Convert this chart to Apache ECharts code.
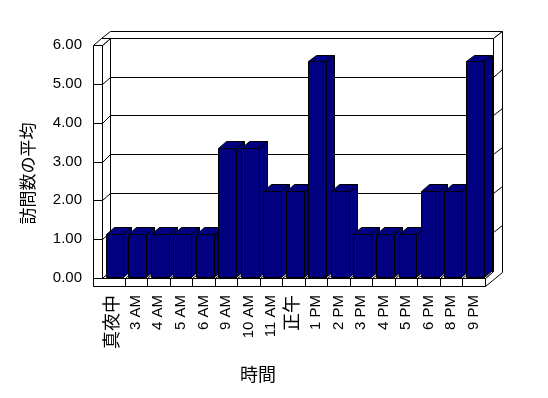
<!DOCTYPE html>
<html>
<head>
<meta charset="utf-8">
<script src="https://cdn.jsdelivr.net/npm/echarts@6/dist/echarts.min.js"></script>
<style>html,body{margin:0;padding:0;background:#fff;}#c{width:548px;height:398px;}</style>
</head>
<body>
<div id="c"></div>
<script>
const categories = ['真夜中','3 AM','4 AM','5 AM','6 AM','9 AM','10 AM','11 AM','正午','1 PM','2 PM','3 PM','4 PM','5 PM','6 PM','8 PM','9 PM'];
const values = [1.11,1.11,1.11,1.11,1.11,3.33,3.33,2.22,2.22,5.55,2.22,1.11,1.11,1.11,2.22,2.22,5.55];
const yTicks = [0,1,2,3,4,5,6];
const yAxisTitle = '訪問数の平均';
const xAxisTitle = '時間';

const FONT = "'Liberation Sans', 'Noto Sans CJK JP', sans-serif";
const NAVY = '#000080';
const D = [8.4, -7.2];      // depth offset of the box
const T = 9;                // left wall thickness
const TF = 8;               // floor thickness
const BS = [1.3, -1];       // bar shift from front plane
const BD = [8, -6.7];       // bar depth
const BW = 0.79;            // bar width ratio

function sn(v){ return Math.round(v) + 0.5; }
function pt(x, y){ return [sn(x), sn(y)]; }
const lineStyle = {stroke:'#000', lineWidth:1, fill:null};
const faceStyle = {fill:'#fff', stroke:'#000', lineWidth:1};

function poly(points, style){ return {type:'polygon', shape:{points: points.map(p => pt(p[0], p[1]))}, style: style}; }
function seg(a, b){ const p = pt(a[0],a[1]), q = pt(b[0],b[1]); return {type:'line', shape:{x1:p[0],y1:p[1],x2:q[0],y2:q[1]}, style: lineStyle}; }

function renderFrame(params, api){
  const band = api.size([1, 0])[0];
  const c0 = api.coord([0, yTicks[0]]);
  const cTop = api.coord([0, yTicks[yTicks.length-1]]);
  const x0 = c0[0] - band/2, x1 = x0 + band * categories.length;
  const y1 = c0[1], y0 = cTop[1];
  const dx = D[0], dy = D[1];
  const ch = [];
  ch.push(poly([[x0-T+dx,y0+dy],[x1+dx,y0+dy],[x1+2*dx,y0+2*dy],[x0-T+2*dx,y0+2*dy]], faceStyle));
  ch.push(poly([[x1,y1],[x1,y1+TF],[x1+2*dx,y1+TF+2*dy],[x1+2*dx,y0+2*dy],[x1+dx,y0+dy],[x1+dx,y1+dy]], faceStyle));
  ch.push(poly([[x0+dx,y0+dy],[x1+dx,y0+dy],[x1+dx,y1+dy],[x0+dx,y1+dy]], faceStyle));
  ch.push(poly([[x0,y0],[x0+dx,y0+dy],[x0+dx,y1+dy],[x0,y1]], faceStyle));
  ch.push(poly([[x0-T,y0],[x0,y0],[x0+dx,y0+dy],[x0-T+dx,y0+dy]], faceStyle));
  ch.push(poly([[x0,y1],[x1,y1],[x1+dx,y1+dy],[x0+dx,y1+dy]], faceStyle));
  ch.push(poly([[x0-T,y0],[x0,y0],[x0,y1],[x1,y1],[x1,y1+TF],[x0-T,y1+TF]], faceStyle));
  yTicks.forEach(function(v){
    const yv = api.coord([0, v])[1];
    if (v > yTicks[0] && v < yTicks[yTicks.length-1]) {
      ch.push(seg([x0+dx,yv+dy],[x1+dx,yv+dy]));
      ch.push(seg([x0,yv],[x0+dx,yv+dy]));
      ch.push(seg([x1+dx,yv+dy],[x1+2*dx,yv+2*dy]));
    }
    if (v < yTicks[yTicks.length-1]) ch.push(seg([x0-T,yv],[x0,yv]));
  });
  for (let i = 1; i < categories.length; i++) {
    const xb = x0 + band * i;
    ch.push(seg([xb,y1],[xb,y1+TF]));
    ch.push(seg([xb,y1],[xb+dx,y1+dy]));
  }
  return {type:'group', children: ch};
}

function renderBar(params, api){
  const i = api.value(0), v = api.value(1);
  const band = api.size([1, 0])[0];
  const base = api.coord([i, 0]);
  const top = api.coord([i, v]);
  const bw = band * BW;
  const xl = base[0] - bw/2 + BS[0], xr = xl + bw;
  const yt = top[1] + BS[1], yb = base[1] + BS[1];
  const st = {fill: NAVY, stroke:'#000', lineWidth:1};
  return {type:'group', children:[
    poly([[xr,yt],[xr+BD[0],yt+BD[1]],[xr+BD[0],yb+BD[1]],[xr,yb]], st),
    poly([[xl,yt],[xr,yt],[xr+BD[0],yt+BD[1]],[xl+BD[0],yt+BD[1]]], st),
    poly([[xl,yt],[xr,yt],[xr,yb],[xl,yb]], st)
  ]};
}

const chart = echarts.init(document.getElementById('c'), null, {renderer:'canvas'});
chart.setOption({
  animation: false,
  backgroundColor: '#fff',
  textStyle: {fontFamily: FONT, color:'#000'},
  grid: {left: 102, right: 63, top: 45, bottom: 120},
  xAxis: {
    type: 'category',
    data: categories,
    axisLine: {show:false}, axisTick: {show:false}, splitLine:{show:false},
    axisLabel: {
      interval: 0, rotate: 90, margin: 17, color:'#000', fontSize: 15, fontFamily: FONT,
      formatter: function(s){ return /[^\x00-\x7f]/.test(s) ? '{c|' + s + '}' : s; },
      rich: {c: {fontSize: 18, fontFamily: FONT, color:'#000'}}
    },
    name: xAxisTitle, nameLocation: 'middle', nameGap: 89,
    nameTextStyle: {fontSize: 18, color:'#000', fontFamily: FONT, padding:[0,71,0,0]}
  },
  yAxis: {
    type: 'value', min: 0, max: 6, interval: 1,
    axisLine: {show:false}, axisTick: {show:false}, splitLine:{show:false},
    axisLabel: {margin: 20, color:'#000', fontSize: 15, fontFamily: FONT, formatter: function(v){ return v.toFixed(2); }},
    name: yAxisTitle, nameLocation: 'middle', nameGap: 64, nameRotate: 90,
    nameTextStyle: {fontSize: 17, color:'#000', fontFamily: FONT, padding:[0,24,0,0]}
  },
  series: [
    {type:'custom', name:'frame', data:[[0,0]], renderItem: renderFrame, silent:true, z:1, clip:false},
    {type:'custom', name:'bars', data: values.map(function(v,i){ return [i, v]; }), renderItem: renderBar, z:2, clip:false}
  ]
});
</script>
</body>
</html>
